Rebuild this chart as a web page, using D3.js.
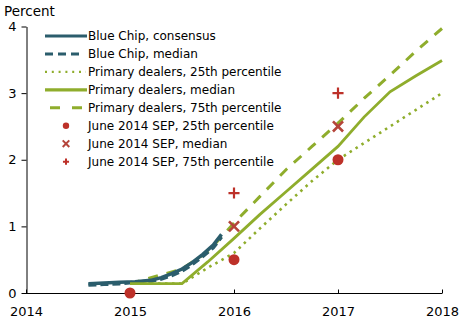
<!DOCTYPE html>
<html><head><meta charset="utf-8">
<script src="https://cdn.jsdelivr.net/npm/d3@7"></script>
<style>
body{margin:0;background:#fff}
svg{display:block}
text{font-family:"DejaVu Sans",Verdana,sans-serif;fill:#000}
</style>
</head><body>
<svg id="chart" width="466" height="330"></svg>
<script>
// ---- data ----
const xTickValues = [2014, 2015, 2016, 2017, 2018];
const yTickValues = [0, 1, 2, 3, 4];

const blueChipDates     = [2014.6, 2014.75, 2014.9, 2015.05, 2015.2, 2015.3, 2015.4, 2015.5, 2015.6, 2015.7, 2015.8, 2015.88];
const blueChipConsensus = [0.14, 0.15, 0.16, 0.17, 0.19, 0.23, 0.29, 0.36, 0.46, 0.58, 0.72, 0.88];
const blueChipMedian    = [0.12, 0.13, 0.14, 0.16, 0.18, 0.21, 0.26, 0.33, 0.43, 0.55, 0.68, 0.84];

const dealerDates = [2015.0, 2015.5, 2015.75, 2016.0, 2016.25, 2016.5, 2016.75, 2017.0, 2017.25, 2017.5, 2017.75, 2018.0];
const dealer25    = [0.14, 0.14, 0.38, 0.60, 0.97, 1.33, 1.68, 2.00, 2.25, 2.50, 2.75, 3.00];
const dealerMed   = [0.14, 0.14, 0.47, 0.82, 1.18, 1.52, 1.86, 2.20, 2.64, 3.02, 3.26, 3.49];
const dealer75    = [0.14, 0.36, 0.62, 1.05, 1.45, 1.85, 2.20, 2.55, 2.92, 3.27, 3.63, 3.97];

const sepYears  = [2015, 2016, 2017];
const sep25     = [0.0, 0.5, 2.0];
const sepMedian = [null, 1.0, 2.5];
const sep75     = [null, 1.5, 3.0];

const legendLabels = [
  "Blue Chip, consensus",
  "Blue Chip, median",
  "Primary dealers, 25th percentile",
  "Primary dealers, median",
  "Primary dealers, 75th percentile",
  "June 2014 SEP, 25th percentile",
  "June 2014 SEP, median",
  "June 2014 SEP, 75th percentile"
];

// ---- styles ----
const BLUE = "#2b5d6c", GREEN = "#8fad2c", RED = "#bd3129", RED2 = "#b5443a";

const svg = d3.select("#chart");
const x = d3.scaleLinear().domain([2014, 2018]).range([26, 442]);
const y = d3.scaleLinear().domain([0, 4]).range([293, 26.5]);

// axes
const xAxis = d3.axisBottom(x).tickValues(xTickValues).tickFormat(d3.format("d"))
  .tickSizeInner(-4).tickSizeOuter(0).tickPadding(13);
const gx = svg.append("g").attr("transform", "translate(0,293.5)").call(xAxis);
gx.selectAll("text").style("font-size", "13px").attr("fill", "#000");
gx.selectAll("path,line").attr("stroke", "#000");
gx.select(".domain").remove();
gx.append("line").attr("x1", 26).attr("x2", 442).attr("stroke", "#000");

const yAxis = d3.axisLeft(y).tickValues(yTickValues).tickFormat(d3.format("d"))
  .tickSizeInner(5).tickSizeOuter(0).tickPadding(5);
const gy = svg.append("g").attr("transform", "translate(26.5,0)").call(yAxis);
gy.selectAll("text").style("font-size", "13px").attr("fill", "#000");
gy.selectAll("path,line").attr("stroke", "#000");

svg.append("text").attr("x", 4).attr("y", 16).style("font-size", "13.5px").text("Percent");

// lines
const line = d3.line().x(d => x(d[0])).y(d => y(d[1]));
function series(dates, vals) { return dates.map((d, i) => [d, vals[i]]); }

svg.append("path").datum(series(dealerDates, dealer75)).attr("d", line)
  .attr("fill", "none").attr("stroke", GREEN).attr("stroke-width", 3).attr("stroke-dasharray", "10,9");
svg.append("path").datum(series(dealerDates, dealer25)).attr("d", line)
  .attr("fill", "none").attr("stroke", GREEN).attr("stroke-width", 2.6).attr("stroke-dasharray", "2.5,4.5");
svg.append("path").datum(series(blueChipDates, blueChipConsensus)).attr("d", line)
  .attr("fill", "none").attr("stroke", BLUE).attr("stroke-width", 3.5);
svg.append("path").datum(series(blueChipDates, blueChipMedian)).attr("d", line)
  .attr("fill", "none").attr("stroke", BLUE).attr("stroke-width", 3.5).attr("stroke-dasharray", "8,4");
svg.append("path").datum(series(dealerDates, dealerMed)).attr("d", line)
  .attr("fill", "none").attr("stroke", GREEN).attr("stroke-width", 2.8);

// SEP markers
const sepPts = (vals) => sepYears.map((d, i) => [d, vals[i]]).filter(p => p[1] !== null);
svg.selectAll(".sep25").data(sepPts(sep25)).enter().append("circle")
  .attr("cx", d => x(d[0])).attr("cy", d => y(d[1])).attr("r", 5.5).attr("fill", RED);
svg.selectAll(".sepMed").data(sepPts(sepMedian)).enter().append("path")
  .attr("transform", d => `translate(${x(d[0])},${y(d[1])})`)
  .attr("d", d3.symbol().type(d3.symbolTimes).size(68))
  .attr("fill", "none").attr("stroke", RED2).attr("stroke-width", 2.6);
svg.selectAll(".sep75").data(sepPts(sep75)).enter().append("path")
  .attr("transform", d => `translate(${x(d[0])},${y(d[1])})`)
  .attr("d", d3.symbol().type(d3.symbolPlus).size(42))
  .attr("fill", "none").attr("stroke", RED).attr("stroke-width", 2.2);

// legend
const lg = svg.append("g");
const rowY = i => 36 + i * 17.95;
legendLabels.forEach((lab, i) => {
  lg.append("text").attr("x", 88).attr("y", rowY(i) + 4.4).style("font-size", "12px").text(lab);
});
const legLine = (i, color, w, dash, x1, x2) => {
  lg.append("line").attr("x1", x1).attr("x2", x2).attr("y1", rowY(i)).attr("y2", rowY(i))
    .attr("stroke", color).attr("stroke-width", w).attr("stroke-dasharray", dash);
};
legLine(0, BLUE, 3, null, 45, 87);
legLine(1, BLUE, 3, "8,5", 45, 80);
legLine(2, GREEN, 2.4, "2,4.8", 45, 86);
legLine(3, GREEN, 3.2, null, 45, 87);
legLine(4, GREEN, 3, "10,12", 50, 82);
lg.append("circle").attr("cx", 66).attr("cy", rowY(5)).attr("r", 3.2).attr("fill", RED);
lg.append("path").attr("transform", `translate(66,${rowY(6)})`)
  .attr("d", d3.symbol().type(d3.symbolTimes).size(30))
  .attr("fill", "none").attr("stroke", RED2).attr("stroke-width", 2);
lg.append("path").attr("transform", `translate(66,${rowY(7)})`)
  .attr("d", d3.symbol().type(d3.symbolPlus).size(14))
  .attr("fill", "none").attr("stroke", RED).attr("stroke-width", 2);
</script>
</body></html>
